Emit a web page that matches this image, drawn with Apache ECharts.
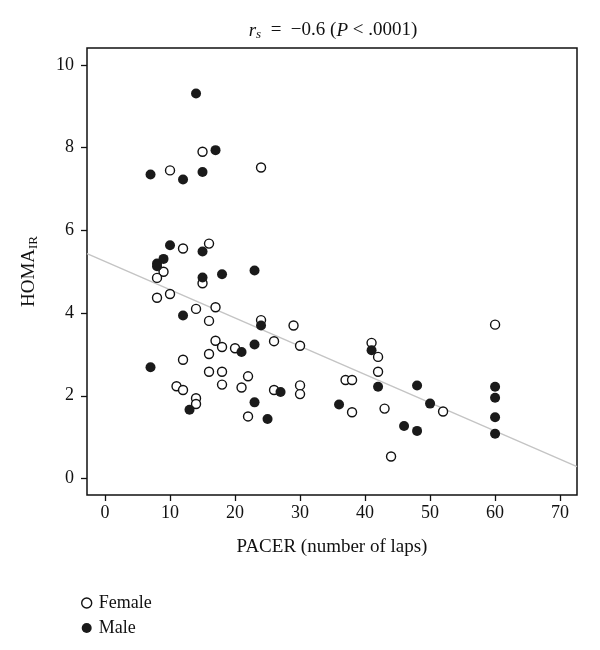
<!DOCTYPE html>
<html>
<head>
<meta charset="utf-8">
<script src="https://cdn.jsdelivr.net/npm/echarts@6/dist/echarts.min.js"></script>
<style>html,body{margin:0;padding:0;background:#fff}#c{width:600px;height:650px}</style>
</head>
<body>
<div id="c"></div>
<script>
// Female (open circles): [PACER laps, HOMA-IR]
const femaleData = [
  [15, 7.90], [10, 7.45], [24, 7.52], [12, 5.56], [16, 5.68], [9, 5.00],
  [8, 4.85], [15, 4.72], [8, 4.37], [10, 4.46], [14, 4.10], [17, 4.14],
  [16, 3.81], [24, 3.83], [29, 3.70], [17, 3.33], [18, 3.18], [20, 3.15],
  [26, 3.32], [30, 3.21], [16, 3.01], [12, 2.87], [16, 2.58], [18, 2.58],
  [22, 2.47], [18, 2.27], [11, 2.23], [12, 2.14], [21, 2.20], [26, 2.14],
  [30, 2.25], [30, 2.04], [14, 1.94], [14, 1.80], [22, 1.50],
  [60, 3.72], [41, 3.28], [42, 2.94], [42, 2.58], [37, 2.38], [38, 2.38],
  [38, 1.60], [43, 1.69], [52, 1.62], [44, 0.53]
];
// Male (filled circles)
const maleData = [
  [14, 9.31], [17, 7.94], [7, 7.35], [12, 7.23], [15, 7.41], [10, 5.64],
  [15, 5.49], [9, 5.31], [8, 5.20], [8, 5.13], [15, 4.86], [18, 4.94],
  [23, 5.03], [12, 3.94], [24, 3.70], [21, 3.06], [23, 3.24], [7, 2.69],
  [27, 2.09], [13, 1.66], [23, 1.84], [25, 1.44],
  [41, 3.10], [42, 2.22], [48, 2.25], [60, 2.22], [60, 1.95], [36, 1.79],
  [50, 1.81], [60, 1.48], [46, 1.27], [48, 1.15], [60, 1.08]
];
// Fitted regression line HOMA = intercept + slope * PACER
const fitIntercept = 5.25;
const fitSlope = -0.0684;
const xTicks = [0, 10, 20, 30, 40, 50, 60, 70];
const yTicks = [0, 2, 4, 6, 8, 10];
const xMin = -2.77, xMax = 72.6;
const yMin = -0.4, yMax = 10.41;

const fitLine = [xMin, xMax].map(x => [x, fitIntercept + fitSlope * x]);

const serif = '"Liberation Serif", "DejaVu Serif", serif';
const chart = echarts.init(document.getElementById('c'));
chart.setOption({
  backgroundColor: '#fff',
  animation: false,
  title: {
    text: '{i|r}{sub|s}  =  \u22120.6 ({i|P} < .0001)',
    left: 328, top: 15, textAlign: 'center',
    textStyle: {
      fontFamily: serif, fontSize: 19, fontWeight: 'normal', color: '#111',
      rich: {
        i: { fontFamily: serif, fontSize: 19, fontStyle: 'italic', color: '#111' },
        sub: { fontFamily: serif, fontSize: 13, fontStyle: 'italic', color: '#111', padding: [8, 0, 0, 0] }
      }
    }
  },
  legend: {
    orient: 'vertical', left: 76, top: 589, itemGap: 7,
    itemWidth: 10, itemHeight: 10,
    textStyle: { fontFamily: serif, fontSize: 18, color: '#111', padding: [0, 0, 0, 2] },
    data: [
      { name: 'Female', icon: 'circle', itemStyle: { color: '#fff', borderColor: '#111', borderWidth: 1.4 } },
      { name: 'Male', icon: 'circle', itemStyle: { color: '#1a1a1a', borderColor: '#1a1a1a', borderWidth: 0 } }
    ]
  },
  grid: {
    left: 87, top: 48, right: 23, bottom: 155,
    show: true, borderColor: '#111', borderWidth: 1.5, backgroundColor: 'transparent'
  },
  xAxis: {
    type: 'value', min: xMin, max: xMax,
    name: 'PACER (number of laps)', nameLocation: 'middle', nameGap: 43,
    nameTextStyle: { fontFamily: serif, fontSize: 19, color: '#111' },
    axisLine: { show: false, onZero: false },
    splitLine: { show: false },
    axisTick: { show: true, inside: false, length: 6, customValues: xTicks, lineStyle: { color: '#111', width: 1.3 } },
    axisLabel: { customValues: xTicks, fontFamily: serif, fontSize: 18, color: '#111', margin: 9 }
  },
  yAxis: {
    type: 'value', min: yMin, max: yMax,
    name: 'HOMA{sub|IR}', nameLocation: 'middle', nameGap: 47, nameRotate: 90,
    nameTextStyle: {
      fontFamily: serif, fontSize: 19, color: '#111',
      rich: { sub: { fontFamily: serif, fontSize: 13, color: '#111', padding: [8, 0, 0, 0] } }
    },
    axisLine: { show: false, onZero: false },
    splitLine: { show: false },
    axisTick: { show: true, inside: false, length: 6, customValues: yTicks, lineStyle: { color: '#111', width: 1.3 } },
    axisLabel: { customValues: yTicks, fontFamily: serif, fontSize: 18, color: '#111', margin: 13 }
  },
  series: [
    {
      name: 'Fit', type: 'line', data: fitLine, symbol: 'none', silent: true,
      lineStyle: { color: '#c4c4c4', width: 1.4 }, z: 1
    },
    {
      name: 'Female', type: 'scatter', data: femaleData, symbol: 'circle', symbolSize: 9,
      itemStyle: { color: '#fff', borderColor: '#111', borderWidth: 1.4, opacity: 1 }, z: 3
    },
    {
      name: 'Male', type: 'scatter', data: maleData, symbol: 'circle', symbolSize: 10,
      itemStyle: { color: '#1a1a1a', opacity: 1 }, z: 4
    }
  ]
});
</script>
</body>
</html>
